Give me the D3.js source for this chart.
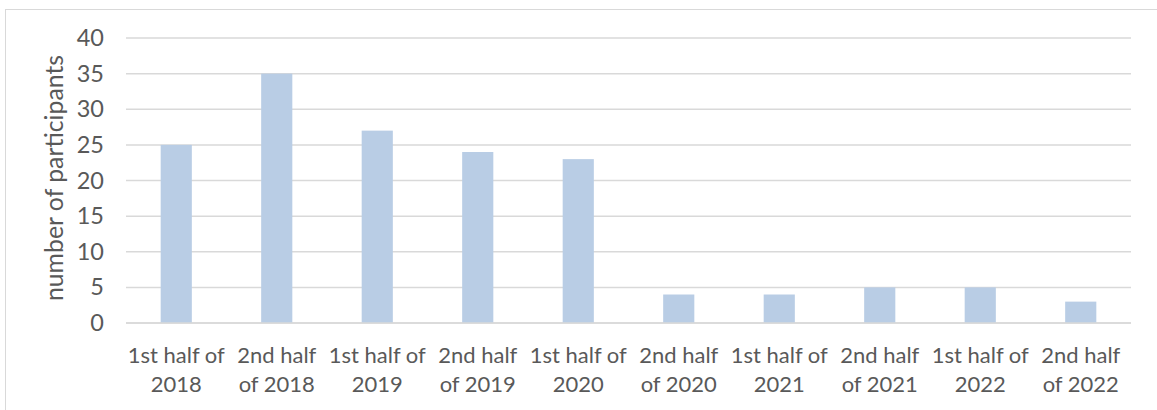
<!DOCTYPE html>
<html>
<head>
<meta charset="utf-8">
<script src="https://cdn.jsdelivr.net/npm/d3@7"></script>
<style>
  html, body { margin: 0; padding: 0; background: #fff; }
  svg { display: block; }
  text { font-family: Lato, "Liberation Sans", sans-serif; fill: #595959; }
</style>
</head>
<body>
<svg id="chart" width="1157" height="410"></svg>
<script>
// Participants per half-year period
const periods = [
  ["1st half of", "2018"], ["2nd half", "of 2018"],
  ["1st half of", "2019"], ["2nd half", "of 2019"],
  ["1st half of", "2020"], ["2nd half", "of 2020"],
  ["1st half of", "2021"], ["2nd half", "of 2021"],
  ["1st half of", "2022"], ["2nd half", "of 2022"]
];
const participants = [25, 35, 27, 24, 23, 4, 4, 5, 5, 3];
const yTicks = [0, 5, 10, 15, 20, 25, 30, 35, 40];
const yTitle = "number of participants";

const svg = d3.select("#chart");
const plot = { left: 126, right: 1131, top: 38, bottom: 323 };

// Outer chart frame
svg.append("rect")
  .attr("x", 5.5).attr("y", 9.5)
  .attr("width", 1170).attr("height", 420)
  .attr("fill", "none").attr("stroke", "#d9d9d9").attr("stroke-width", 1);

const x = d3.scaleBand()
  .domain(d3.range(periods.length))
  .range([plot.left, plot.right])
  .paddingInner(0.69)
  .paddingOuter(0.345);

const y = d3.scaleLinear().domain([0, 40]).range([plot.bottom, plot.top]);

// Horizontal gridlines
svg.append("g")
  .selectAll("line")
  .data(yTicks)
  .join("line")
  .attr("x1", plot.left).attr("x2", plot.right)
  .attr("y1", d => y(d)).attr("y2", d => y(d))
  .attr("stroke", "#d9d9d9").attr("stroke-width", 1.5);

// Bars
svg.append("g")
  .selectAll("rect")
  .data(participants)
  .join("rect")
  .attr("x", (d, i) => x(i))
  .attr("width", x.bandwidth())
  .attr("y", d => y(d))
  .attr("height", d => y(0) - y(d))
  .attr("fill", "#b9cde5");

// Redraw baseline over bars
svg.append("line")
  .attr("x1", plot.left).attr("x2", plot.right)
  .attr("y1", y(0)).attr("y2", y(0))
  .attr("stroke", "#d9d9d9").attr("stroke-width", 1.5);

// Y axis labels
const yAxis = d3.axisLeft(y).tickValues(yTicks).tickSize(0).tickPadding(0);
const gy = svg.append("g")
  .attr("transform", `translate(${plot.left - 22},0)`)
  .call(yAxis);
gy.attr("font-size", 23.5).attr("font-family", "Lato, 'Liberation Sans', sans-serif");
gy.select(".domain").remove();
gy.selectAll("text").attr("fill", "#595959");

// X axis labels (two lines)
const gx = svg.append("g").attr("font-size", 22);
periods.forEach((p, i) => {
  const cx = x(i) + x.bandwidth() / 2;
  const t = gx.append("text").attr("text-anchor", "middle");
  t.append("tspan").attr("x", cx).attr("y", 363).text(p[0]);
  t.append("tspan").attr("x", cx).attr("y", 392).text(p[1]);
});

// Y axis title
svg.append("text")
  .attr("transform", `translate(63,178) rotate(-90)`)
  .attr("text-anchor", "middle")
  .attr("font-size", 24.8)
  .text(yTitle);
</script>
</body>
</html>
